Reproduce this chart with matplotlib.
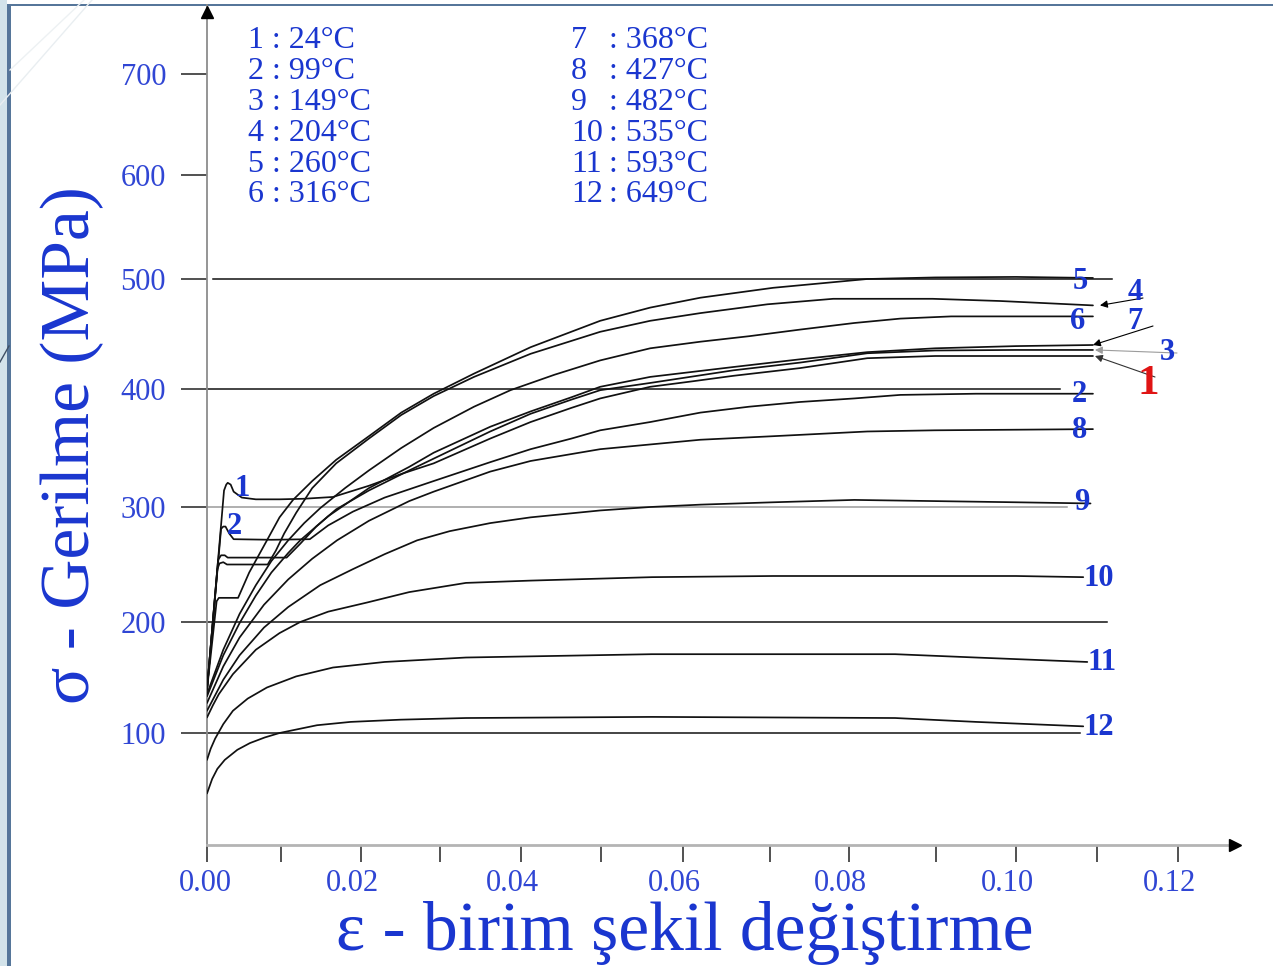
import numpy as np
import matplotlib
matplotlib.use("Agg")
import matplotlib.pyplot as plt
from matplotlib import transforms
from matplotlib.lines import Line2D
from matplotlib.patches import Rectangle
from matplotlib.ticker import FixedLocator, FormatStrFormatter

plt.rcParams["font.family"] = ["Liberation Serif", "DejaVu Serif"]

# ---------------------------------------------------------------- data
curve_ids = ["1", "2", "3", "4", "5", "6", "7", "8", "9", "10", "11", "12"]
temperatures = ["24°C", "99°C", "149°C", "204°C", "260°C", "316°C",
                "368°C", "427°C", "482°C", "535°C", "593°C", "649°C"]

strain_1 = [0, 0.0023, 0.0026, 0.0028, 0.0032, 0.0036, 0.0047, 0.0066, 0.0098, 0.0129,
            0.0165, 0.021, 0.0251, 0.0292, 0.0362, 0.0412, 0.0463, 0.0499, 0.056, 0.0611,
            0.0658, 0.0738, 0.0821, 0.0899, 0.10, 0.1095]
stress_1 = [139, 314, 319, 320.5, 319, 313, 308, 306.5, 306.5, 307,
            308.5, 318, 328, 337, 358, 372, 384, 392, 402, 407,
            412, 419, 428, 430, 430, 430]

strain_2 = [0, 0.0019, 0.0022, 0.0025, 0.003, 0.0036, 0.0087, 0.0136, 0.0159, 0.019,
            0.023, 0.0292, 0.0362, 0.0412, 0.0463, 0.0499, 0.056, 0.062, 0.0676, 0.0738,
            0.0806, 0.0859, 0.095, 0.1095]
stress_2 = [139, 281, 283, 283, 277, 272, 271.5, 272, 284, 296,
            308, 322, 338, 349, 358, 365, 372, 380, 385, 389,
            392, 395, 396, 396]

strain_3 = [0, 0.0015, 0.0019, 0.0024, 0.0028, 0.0066, 0.0107, 0.0124, 0.0144, 0.0169,
            0.021, 0.0261, 0.0292, 0.0362, 0.0412, 0.0463, 0.0499, 0.056, 0.0658, 0.0738,
            0.0821, 0.0899, 0.10, 0.1095]
stress_3 = [139, 254, 258, 258, 256, 256, 256, 268, 283, 298,
            314, 331, 341, 364, 379, 391, 399, 405.5, 417, 424,
            432.5, 435, 435.5, 435.5]

strain_4 = [0, 0.0014, 0.0017, 0.0022, 0.0027, 0.0055, 0.0082, 0.0093, 0.0104, 0.0119,
            0.0139, 0.0169, 0.021, 0.0251, 0.0292, 0.0342, 0.0412, 0.0499, 0.056, 0.062,
            0.0697, 0.078, 0.0896, 0.098, 0.1095]
stress_4 = [139, 246, 251, 252, 250, 250, 250, 262, 277, 295,
            316, 337, 358, 378, 394, 411, 432, 452, 462, 469,
            477, 482, 482, 480, 476]

strain_5 = [0, 0.0013, 0.0016, 0.0027, 0.0042, 0.0057, 0.0081, 0.0098, 0.0115, 0.0139,
            0.0169, 0.021, 0.0251, 0.0292, 0.0342, 0.0412, 0.0499, 0.056, 0.062, 0.0704,
            0.0821, 0.0899, 0.10, 0.1095]
stress_5 = [139, 218, 221, 221, 221, 243, 271, 291, 306, 322,
            340, 360, 380, 396, 414, 438, 462, 474, 483, 492,
            500, 501.5, 502, 501]

strain_6 = [0, 0.0022, 0.0044, 0.0066, 0.0087, 0.0109, 0.0129, 0.0149, 0.018, 0.021,
            0.0251, 0.0292, 0.0342, 0.0387, 0.0442, 0.0499, 0.056, 0.062, 0.0676, 0.0738,
            0.0806, 0.0859, 0.0919, 0.10, 0.1095]
stress_6 = [135, 175, 207, 232, 253, 271, 286, 299, 316, 331,
            350, 367, 385, 399, 413, 426, 437, 443, 448, 454,
            460, 464, 466, 466, 466]

strain_7 = [0, 0.0022, 0.0044, 0.0066, 0.0087, 0.0109, 0.0124, 0.0159, 0.021, 0.0261,
            0.0292, 0.0362, 0.0412, 0.0463, 0.0499, 0.056, 0.0658, 0.0738, 0.0821, 0.0899,
            0.10, 0.1095]
stress_7 = [133, 170, 199, 223, 243, 260, 271, 292, 316, 334,
            346, 368, 381, 393, 402, 411, 420, 427, 433.5, 437,
            439, 440]

strain_8 = [0, 0.0022, 0.0044, 0.0077, 0.0109, 0.0139, 0.017, 0.021, 0.0261, 0.0292,
            0.0362, 0.0412, 0.0499, 0.056, 0.062, 0.0704, 0.0821, 0.0899, 0.10, 0.1095]
stress_8 = [127, 160, 186, 215, 237, 255, 271, 288, 305, 313,
            330, 339, 349, 353, 357, 360, 364, 365, 365.5, 366]

strain_9 = [0, 0.0022, 0.0044, 0.0077, 0.0109, 0.0149, 0.019, 0.023, 0.0271, 0.0312,
            0.0362, 0.0412, 0.0499, 0.056, 0.062, 0.0704, 0.0806, 0.0899, 0.10, 0.1092]
stress_9 = [120, 148, 170, 195, 213, 232, 246, 259, 271, 279,
            286, 291, 297, 300, 302, 304, 306, 305, 304, 303]

strain_10 = [0, 0.0008, 0.0016, 0.0035, 0.0066, 0.0098, 0.0124, 0.0159, 0.0208, 0.0261,
             0.0332, 0.0412, 0.0562, 0.0704, 0.0899, 0.10, 0.1083]
stress_10 = [114, 125, 135, 153, 175, 190, 200, 209, 217, 226,
             234, 236, 239, 240, 240, 240, 239]

strain_11 = [0, 0.0005, 0.0011, 0.0022, 0.0035, 0.0055, 0.0081, 0.0119, 0.0165, 0.023,
             0.0332, 0.0562, 0.0704, 0.0853, 0.095, 0.1088]
stress_11 = [76, 86, 95, 108, 120, 131, 141, 151, 159, 164,
             168, 171, 171, 171, 168, 164]

strain_12 = [0, 0.0007, 0.0014, 0.0024, 0.0041, 0.0058, 0.0078, 0.0098, 0.0145, 0.0187,
             0.025, 0.0332, 0.0562, 0.0704, 0.0853, 0.095, 0.1083]
stress_12 = [46, 59, 68, 76, 85, 91, 96, 100, 107, 110,
             112, 113.5, 114.5, 114, 113.5, 110, 106]

y_ticks = [100, 200, 300, 400, 500, 600, 700]
x_major = [0.00, 0.02, 0.04, 0.06, 0.08, 0.10, 0.12]
x_minor = [0.01, 0.03, 0.05, 0.07, 0.09, 0.11]

strains = [strain_1, strain_2, strain_3, strain_4, strain_5, strain_6,
           strain_7, strain_8, strain_9, strain_10, strain_11, strain_12]
stresses = [stress_1, stress_2, stress_3, stress_4, stress_5, stress_6,
            stress_7, stress_8, stress_9, stress_10, stress_11, stress_12]

# ---------------------------------------------------------------- figure
W, H = 1273, 966
fig = plt.figure(figsize=(W / 100, H / 100), dpi=100)
fig.patch.set_facecolor("white")

BLUE = "#1a36cf"
TICK_BLUE = "#3046d4"


def fx(px):
    return px / W


def fy(py):
    return 1 - py / H


# slide frame
fig.add_artist(Rectangle((0, 0), fx(7), 1, transform=fig.transFigure,
                         facecolor="#d3e3ea", edgecolor="none", zorder=0))
fig.add_artist(Rectangle((fx(7), 0), fx(3.5), fy(4), transform=fig.transFigure,
                         facecolor="#56769a", edgecolor="none", zorder=0))
fig.add_artist(Rectangle((fx(7), fy(6)), 1, 2.5 / H, transform=fig.transFigure,
                         facecolor="#56769a", edgecolor="none", zorder=0))
for (x0, y0, x1, y1, c) in [(92, 0, 0, 105, "#e9eef1"), (84, 0, 10, 70, "#edf1f3"),
                            (0, 362, 9, 346, "#3f5064")]:
    fig.add_artist(Line2D([fx(x0), fx(x1)], [fy(y0), fy(y1)], transform=fig.transFigure,
                          color=c, lw=1.0, zorder=0))

# axes box: from the vertical axis (x=207 px) to the arrow tip, sigma=0 at y=845 px
ax = fig.add_axes([fx(207), fy(845), (1243 - 207) / W, (845 - 5) / H])
ax.set_facecolor("none")

# the printed chart's axes are not evenly divided; follow its tick marks
X_VALS = [0, 0.01, 0.02, 0.03, 0.04, 0.05, 0.06, 0.07, 0.08, 0.09, 0.10, 0.11, 0.12, 0.13]
X_POS = np.array([207, 281, 361, 440, 521, 601, 683, 770, 849, 936, 1016, 1097, 1178, 1259],
                 dtype=float)
Y_VALS = [0, 100, 200, 300, 400, 500, 600, 700, 800]
Y_POS = -np.array([845, 733, 622, 507, 389, 279, 175, 74, -27], dtype=float)


def x_fwd(v):
    return np.interp(v, X_VALS, X_POS)


def x_inv(u):
    return np.interp(u, X_POS, X_VALS)


def y_fwd(v):
    return np.interp(v, Y_VALS, Y_POS)


def y_inv(u):
    return np.interp(u, Y_POS, Y_VALS)


ax.set_xscale("function", functions=(x_fwd, x_inv))
ax.set_yscale("function", functions=(y_fwd, y_inv))
ax.set_xlim(0, float(x_inv(1243.0)))
ax.set_ylim(0, float(y_inv(-5.0)))
PX_PER_UNIT = 8100.0

for s in ax.spines.values():
    s.set_visible(False)

ax.yaxis.set_major_locator(FixedLocator(y_ticks))
ax.yaxis.set_minor_locator(FixedLocator([]))
ax.set_yticklabels([str(v) for v in y_ticks])
ax.tick_params(axis="y", which="major", direction="out", length=18.5, width=1.1,
               color="#222222", pad=11, labelsize=22, labelcolor=TICK_BLUE)

ax.xaxis.set_major_locator(FixedLocator(x_major))
ax.xaxis.set_minor_locator(FixedLocator(x_minor))
ax.xaxis.set_major_formatter(FormatStrFormatter("%.2f"))
ax.tick_params(axis="x", which="both", direction="out", length=12, width=1.1,
               color="#222222", pad=5, labelsize=22, labelcolor=TICK_BLUE)
for k, lab in enumerate(ax.get_xticklabels()):
    dx = -2 if k == 0 else -9
    lab.set_transform(lab.get_transform()
                      + transforms.ScaledTranslation(dx / 100, 0, fig.dpi_scale_trans))

# axis lines with arrow heads
ax.plot([0, 0], [0, 1], transform=ax.transAxes, color="#8c8c8c", lw=1.3,
        clip_on=False, zorder=3)
ax.plot([0, 0.995], [0, 0], transform=ax.transAxes, color="#b4b4b4", lw=2.0,
        clip_on=False, zorder=3)
ax.plot([0], [0.992], transform=ax.transAxes, marker="^", ms=9, color="black",
        clip_on=False, zorder=4)
ax.plot([0.992], [0], transform=ax.transAxes, marker=">", ms=9, color="black",
        clip_on=False, zorder=4)

# reference lines at the stress ticks (value, start px, end px, colour)
ref_lines = [(500, 213, 1112, "#111111"), (400, 181, 1060, "#111111"),
             (300, 181, 1067, "#9a9a9a"), (200, 205, 1107, "#111111"),
             (100, 181, 1080, "#111111")]
for val, x0, x1, col in ref_lines:
    x0d = (x0 - 207) / PX_PER_UNIT if x0 < 207 else float(x_inv(x0))
    ax.plot([x0d, float(x_inv(x1))], [val, val], color=col, lw=1.1, clip_on=False, zorder=2)

# stress-strain curves
for e, s in zip(strains, stresses):
    ax.plot(e, s, color="#111111", lw=1.25, solid_joinstyle="round",
            solid_capstyle="round", zorder=5)

# curve numbers at the right ends (dx right, dy down, in pixels)
label_offsets = {"5": (-13, 4, "center"), "6": (-15, 5, "center"),
                 "2": (-14, 1, "center"), "8": (-13, 1, "center"),
                 "9": (-9, -1, "center"), "10": (0, 1, "left"),
                 "11": (0, 1, "left"), "12": (0, 1, "left")}
for cid, e, s in zip(curve_ids, strains, stresses):
    if cid in label_offsets:
        dx, dy, ha = label_offsets[cid]
        ax.annotate(cid, xy=(e[-1], s[-1]), xytext=(dx, -dy), textcoords="offset pixels",
                    ha=ha, va="center", fontsize=22, fontweight="bold", color=BLUE,
                    zorder=6, annotation_clip=False)

# labels with leader arrows
arrow_labels = [("4", (1135, 293), (1143, 298), 7, "black", BLUE, 22),
                ("7", (1135, 322), (1153, 326), 0, "black", BLUE, 22),
                ("3", (1167, 352), (1177, 353), 2, "#9c9c9c", BLUE, 22),
                ("1", (1148, 384), (1155, 377), 2, "#333333", "#e01414", 31)]
for cid, tpos, spos, tip_dx, lcol, tcol, fsz in arrow_labels:
    i = curve_ids.index(cid)
    tip = (strains[i][-1] + tip_dx / PX_PER_UNIT, stresses[i][-1])
    ax.annotate("", xy=tip, xytext=(spos[0], H - spos[1]), textcoords="figure pixels",
                arrowprops=dict(arrowstyle="-|>", color=lcol, lw=0.8, mutation_scale=11,
                                shrinkA=0, shrinkB=0), annotation_clip=False, zorder=6)
    fig.text(fx(tpos[0]), fy(tpos[1]), cid, ha="center", va="center", fontsize=fsz,
             fontweight="bold", color=tcol, zorder=7)

# curve numbers at the yield points
fig.text(fx(242), fy(488), "1", ha="center", va="center", fontsize=22,
         fontweight="bold", color=BLUE)
fig.text(fx(234), fy(527), "2", ha="center", va="center", fontsize=22,
         fontweight="bold", color=BLUE)

# temperature key
rows = [48, 79, 110, 141, 172, 202]
for k in range(6):
    fig.text(fx(248), fy(rows[k]), f"{curve_ids[k]} : {temperatures[k]}", ha="left",
             va="baseline", fontsize=23, color=BLUE)
    fig.text(fx(571), fy(rows[k]), curve_ids[k + 6], ha="left", va="baseline",
             fontsize=23, color=BLUE)
    fig.text(fx(609), fy(rows[k]), f": {temperatures[k + 6]}", ha="left",
             va="baseline", fontsize=23, color=BLUE)

# axis titles
fig.text(fx(72), fy(445), "σ - Gerilme (MPa)", rotation=90, ha="center", va="center",
         fontsize=50, color=BLUE)
fig.text(fx(685), fy(950), "ε - birim şekil değiştirme", ha="center", va="baseline",
         fontsize=50, color=BLUE)

fig.savefig("out.png", dpi=100, facecolor=fig.get_facecolor())
